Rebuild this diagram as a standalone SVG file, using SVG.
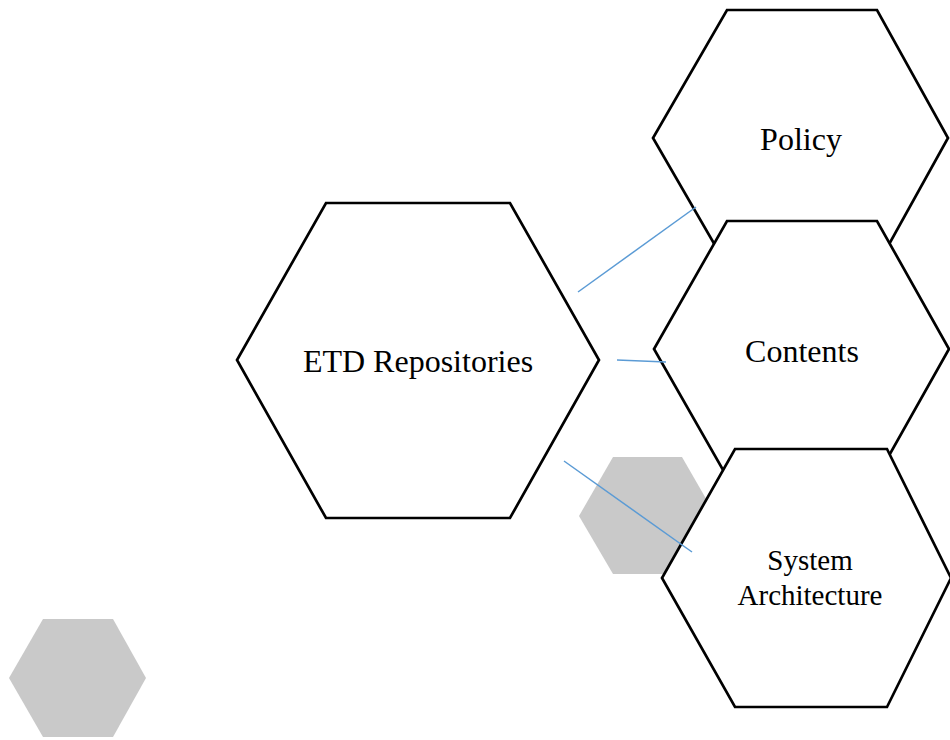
<svg xmlns="http://www.w3.org/2000/svg" width="950" height="740" viewBox="0 0 950 740">
<style>
.hex{fill:#ffffff;stroke:#000000;stroke-width:2.7;stroke-linejoin:miter}
.deco{fill:#c9c9c9;stroke:none}
.lbl{font-family:"Liberation Serif","Times New Roman",serif;font-size:32px;fill:#000000;text-anchor:middle}
.sm{font-size:29px}
.conn{stroke:#5b9bd5;stroke-width:1.5;fill:none}
</style>
<rect width="950" height="740" fill="#ffffff"/>
<polygon class="deco" points="43,619 113,619 146,678 113,737 43,737 9,678"/>
<g id="etd">
<polygon class="hex" points="326,203 510,203 599,360 510,518 326,518 237,360"/>
<text class="lbl" x="418" y="372">ETD Repositories</text>
</g>
<g id="policy">
<polygon class="hex" points="727,10 877,10 948,138 877,266 727,266 653,138"/>
<text class="lbl" x="801" y="150">Policy</text>
</g>
<g id="contents">
<polygon class="hex" points="727,221 877,221 949,349 877,477 727,477 654,349"/>
<text class="lbl" x="802" y="362">Contents</text>
</g>
<polygon class="deco" points="613,457 682,457 716,516 682,574 613,574 579,516"/>
<g id="system-architecture">
<polygon class="hex" points="735,449 887,449 951,578 887,707 735,707 662,578"/>
<text class="lbl sm" x="810" y="570">System</text>
<text class="lbl sm" x="810" y="605">Architecture</text>
</g>
<g id="connectors">
<line class="conn" x1="578" y1="292" x2="696" y2="207"/>
<line class="conn" x1="617" y1="360" x2="666" y2="362"/>
<line class="conn" x1="564" y1="461" x2="692" y2="552"/>
</g>
</svg>
